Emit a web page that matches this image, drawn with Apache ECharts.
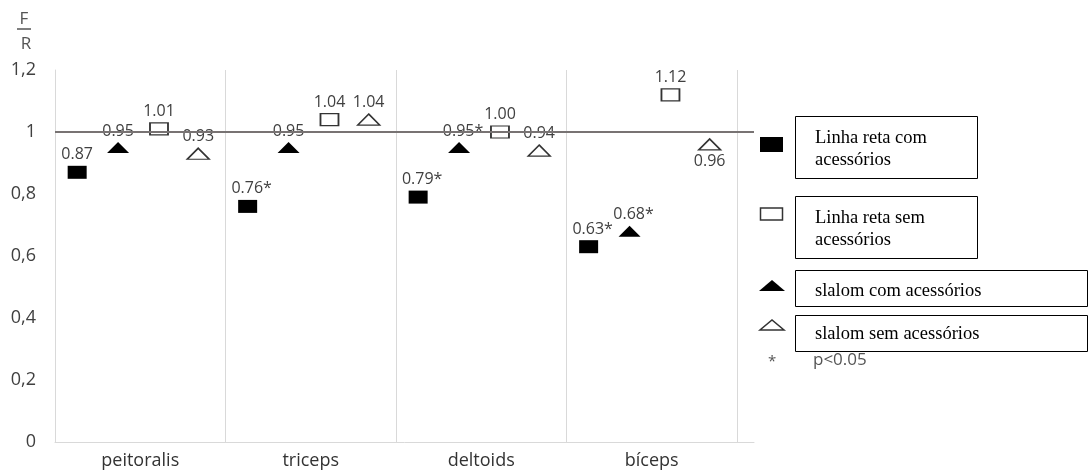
<!DOCTYPE html>
<html>
<head>
<meta charset="utf-8">
<script src="https://cdn.jsdelivr.net/npm/echarts@6/dist/echarts.min.js"></script>
<style>
html,body{margin:0;padding:0;background:#fff;}
#chart{width:1089px;height:475px;}
</style>
</head>
<body>
<div id="chart"></div>
<script>
// ---- data ----
const categories = ['peitoralis', 'triceps', 'deltoids', 'bíceps'];
const seriesNames = ['Linha reta com acessórios', 'Linha reta sem acessórios', 'slalom com acessórios', 'slalom sem acessórios'];
const retaCom   = [0.87, 0.76, 0.79, 0.63];
const retaSem   = [1.01, 1.04, 1.00, 1.12];
const slalomCom = [0.95, 0.95, 0.95, 0.68];
const slalomSem = [0.93, 1.04, 0.94, 0.96];
const retaComSig   = [false, true, true, true];
const retaSemSig   = [false, false, false, false];
const slalomComSig = [false, false, true, true];
const slalomSemSig = [false, false, false, false];
const yTicks = [0, 0.2, 0.4, 0.6, 0.8, 1, 1.2];
const referenceValue = 1;

// ---- styling ----
// horizontal slot of each series inside its category: reta com, reta sem, slalom com, slalom sem
const slotOffset = [0.13, 0.61, 0.37, 0.84];
const labelBelow = [[false,false,false,false],[false,false,false,false],[false,false,false,false],[false,false,false,true]];
const FONT = '"Open Sans", "Noto Sans", sans-serif';
const SERIF = '"Liberation Serif", "DejaVu Serif", serif';

const styles = [
  {symbol: 'rect', size: [19, 13], color: '#000', border: '#000', bw: 0},
  {symbol: 'rect', size: [18, 12], color: '#fff', border: '#333', bw: 1.5},
  {symbol: 'triangle', size: [22, 11], color: '#000', border: '#000', bw: 0},
  {symbol: 'triangle', size: [22, 11], color: '#fff', border: '#333', bw: 1.5}
];
const allValues = [retaCom, retaSem, slalomCom, slalomSem];
const allSig = [retaComSig, retaSemSig, slalomComSig, slalomSemSig];

const series = allValues.map((vals, s) => ({
  name: seriesNames[s],
  type: 'scatter',
  xAxisIndex: 0,
  symbol: styles[s].symbol,
  symbolSize: styles[s].size,
  itemStyle: {color: styles[s].color, borderColor: styles[s].border, borderWidth: styles[s].bw, opacity: 1},
  label: {
    show: true, position: 'top', distance: 3, color: '#404040', fontSize: 16, fontFamily: FONT,
    formatter: p => vals[p.dataIndex].toFixed(2) + (allSig[s][p.dataIndex] ? '*' : '')
  },
  emphasis: {disabled: true},
  data: vals.map((v, i) => {
    const item = {value: [i + slotOffset[s], v]};
    const lbl = {};
    if (allSig[s][i]) lbl.offset = [4, 0];
    if (labelBelow[s][i]) lbl.position = 'bottom';
    item.label = lbl;
    return item;
  }),
  markLine: s === 0 ? {
    silent: true, symbol: 'none', label: {show: false},
    lineStyle: {color: '#787373', width: 2, type: 'solid'},
    data: [{yAxis: referenceValue}]
  } : undefined,
  z: 3
}));

const chart = echarts.init(document.getElementById('chart'), null, {renderer: 'canvas'});
const nCat = categories.length;
const xMax = nCat + 0.1;

chart.setOption({
  animation: false,
  backgroundColor: '#fff',
  grid: {left: 55, right: 335, top: 70, bottom: 33, containLabel: false},
  xAxis: [
    {
      type: 'value', min: 0, max: xMax, interval: 1,
      axisLine: {show: true, lineStyle: {color: '#d9d9d9', width: 1}},
      axisTick: {show: false}, axisLabel: {show: false},
      splitLine: {show: true, lineStyle: {color: ['#d9d9d9','#d9d9d9','#d9d9d9','#d9d9d9','#d9d9d9','rgba(0,0,0,0)'], width: 1}}
    },
    {
      type: 'value', min: 0, max: xMax, interval: 0.5, position: 'bottom',
      axisLine: {show: false}, axisTick: {show: false}, splitLine: {show: false},
      axisLabel: {
        color: '#333', fontSize: 18, fontFamily: FONT, margin: 10,
        showMinLabel: true, showMaxLabel: true,
        formatter: v => { const i = v - 0.5; return (Number.isInteger(i) && categories[i] !== undefined) ? categories[i] : ''; }
      }
    }
  ],
  yAxis: {
    type: 'value', min: yTicks[0], max: yTicks[yTicks.length - 1], interval: 0.2,
    axisLine: {show: true, lineStyle: {color: '#d9d9d9'}},
    axisTick: {show: false}, splitLine: {show: false},
    axisLabel: {color: '#404040', fontSize: 18, fontFamily: FONT, margin: 19,
      formatter: v => String(+v.toFixed(1)).replace('.', ',')}
  },
  series: series,
  graphic: [
    // y-axis name F/R
    {type: 'text', x: 24, y: 19, style: {text: 'F', fill: '#555', font: '17px ' + FONT, textAlign: 'center', textVerticalAlign: 'middle'}},
    {type: 'line', shape: {x1: 17, y1: 29, x2: 31, y2: 29}, style: {stroke: '#555', lineWidth: 1.5}},
    {type: 'text', x: 26, y: 44, style: {text: 'R', fill: '#555', font: '17px ' + FONT, textAlign: 'center', textVerticalAlign: 'middle'}},
    // legend icons
    {type: 'rect', shape: {x: 760, y: 137, width: 23, height: 15}, style: {fill: '#000'}},
    {type: 'rect', shape: {x: 760.5, y: 208, width: 22, height: 12}, style: {fill: '#fff', stroke: '#333', lineWidth: 1.5}},
    {type: 'polygon', shape: {points: [[759, 291], [785, 291], [772, 280]]}, style: {fill: '#000'}},
    {type: 'polygon', shape: {points: [[760, 330], [784, 330], [772, 320]]}, style: {fill: '#fff', stroke: '#333', lineWidth: 1.5}},
    // legend boxes
    {type: 'rect', shape: {x: 795.5, y: 116.5, width: 182, height: 62}, style: {fill: '#fff', stroke: '#000', lineWidth: 1}},
    {type: 'text', left: 815, top: 127, style: {text: 'Linha reta com\nacessórios', fill: '#000', font: '18.5px ' + SERIF, lineHeight: 22}},
    {type: 'rect', shape: {x: 795.5, y: 196.5, width: 182, height: 62}, style: {fill: '#fff', stroke: '#000', lineWidth: 1}},
    {type: 'text', left: 815, top: 207, style: {text: 'Linha reta sem\nacessórios', fill: '#000', font: '18.5px ' + SERIF, lineHeight: 22}},
    {type: 'rect', shape: {x: 795.5, y: 270.5, width: 292, height: 36}, style: {fill: '#fff', stroke: '#000', lineWidth: 1}},
    {type: 'text', left: 815, top: 282, style: {text: seriesNames[2], fill: '#000', font: '18.5px ' + SERIF}},
    {type: 'rect', shape: {x: 795.5, y: 315.5, width: 292, height: 36}, style: {fill: '#fff', stroke: '#000', lineWidth: 1}},
    {type: 'text', left: 815, top: 325, style: {text: seriesNames[3], fill: '#000', font: '18.5px ' + SERIF}},
    // significance note
    {type: 'text', left: 768, top: 354, style: {text: '*', fill: '#555', font: '15px ' + FONT}},
    {type: 'text', left: 813, top: 352, style: {text: 'p<0.05', fill: '#555', font: '17px ' + FONT}}
  ]
});
</script>
</body>
</html>
